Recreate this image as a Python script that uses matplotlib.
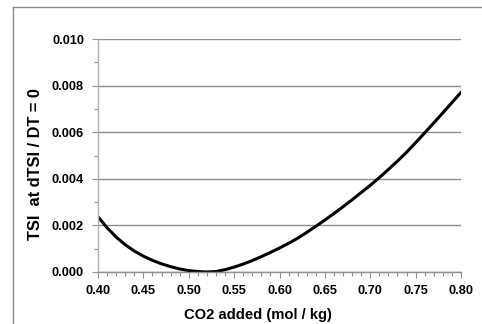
import matplotlib.pyplot as plt
from matplotlib.lines import Line2D
from matplotlib.ticker import MultipleLocator, FormatStrFormatter

plt.rcParams['font.family'] = ['Liberation Sans', 'DejaVu Sans']
plt.rcParams['font.weight'] = 'bold'

# CO2 added (mol/kg) and TSI where dTSI/DT = 0 (in units of 1e-3)
co2 = [0.40, 0.41, 0.42, 0.43, 0.44, 0.45, 0.46, 0.47, 0.48, 0.49,
       0.50, 0.51, 0.52, 0.53, 0.54, 0.55, 0.56, 0.57, 0.58, 0.59,
       0.60, 0.61, 0.62, 0.63, 0.64, 0.65, 0.66, 0.67, 0.68, 0.69,
       0.70, 0.71, 0.72, 0.73, 0.74, 0.75, 0.76, 0.77, 0.78, 0.79, 0.80]
tsi_milli = [2.37, 1.90, 1.50, 1.17, 0.90, 0.68, 0.50, 0.35, 0.23, 0.13,
             0.06, 0.02, 0.00, 0.02, 0.10, 0.21, 0.34, 0.49, 0.66, 0.84,
             1.03, 1.23, 1.45, 1.70, 1.96, 2.23, 2.51, 2.80, 3.10, 3.41,
             3.72, 4.05, 4.40, 4.76, 5.14, 5.55, 5.97, 6.40, 6.83, 7.27, 7.71]
tsi = [v / 1000 for v in tsi_milli]

fig = plt.figure(figsize=(4.82, 3.24), dpi=100)
ax = fig.add_axes([98 / 482, 1 - 272 / 324, 363 / 482, 233 / 324])

ax.plot(co2, tsi, color='black', lw=2.2, solid_capstyle='round')

ax.set_xlim(0.40, 0.80)
ax.set_ylim(0.0, 0.010)
ax.xaxis.set_major_locator(MultipleLocator(0.05))
ax.xaxis.set_minor_locator(MultipleLocator(0.01))
ax.yaxis.set_major_locator(MultipleLocator(0.002))
ax.yaxis.set_minor_locator(MultipleLocator(0.001))
ax.xaxis.set_major_formatter(FormatStrFormatter('%.2f'))
ax.yaxis.set_major_formatter(FormatStrFormatter('%.3f'))

ax.grid(axis='y', which='major', color='#8c8c8c', lw=1.0)
ax.set_axisbelow(True)
for s in ['top', 'right']:
    ax.spines[s].set_visible(False)
ax.spines['left'].set_color('#b0b0b0')
ax.spines['bottom'].set_color('#909090')
ax.spines['left'].set_linewidth(1.0)
ax.spines['bottom'].set_linewidth(1.0)

ax.tick_params(axis='both', which='major', labelsize=9.2, direction='out',
               length=4, width=0.8, color='#909090', pad=5)
ax.tick_params(axis='both', which='minor', direction='out',
               length=3, width=0.8, color='#909090')
ax.tick_params(axis='y', which='major', pad=6)

ax.set_xlabel('CO2 added (mol / kg)', fontsize=10.6, fontweight='bold', va='center')
ax.set_ylabel('TSI  at dTSI / DT = 0', fontsize=11.8, fontweight='bold', va='center')
ax.xaxis.set_label_coords((257.5 - 98) / 363, (272 - 315) / 233)
ax.yaxis.set_label_coords((36 - 98) / 363, (272 - 164.5) / 233)

# chart frame lines
fig.add_artist(Line2D([13 / 482, 1.0], [1 - 7 / 324, 1 - 7 / 324],
                      transform=fig.transFigure, color='#8c8c8c', lw=1.0))
fig.add_artist(Line2D([13 / 482, 13 / 482], [0.0, 1 - 7 / 324],
                      transform=fig.transFigure, color='#8c8c8c', lw=1.0))

fig.savefig('out.png', dpi=100)
